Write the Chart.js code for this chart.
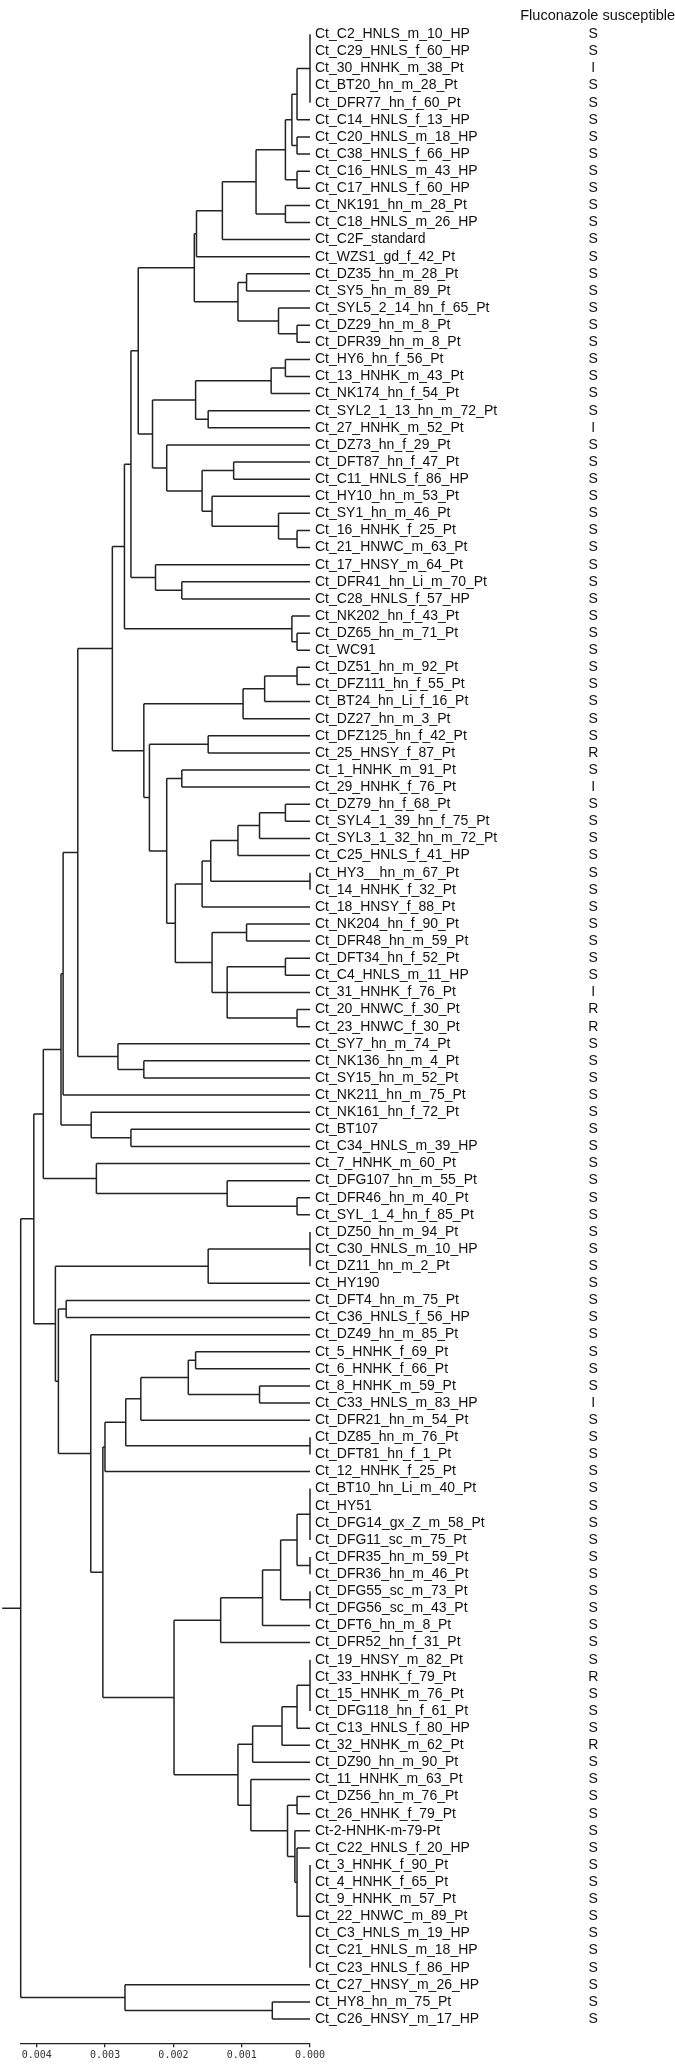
<!DOCTYPE html>
<html><head><meta charset="utf-8">
<script src="https://cdn.jsdelivr.net/npm/chart.js@4.4.1/dist/chart.umd.min.js"></script>
<style>html,body{margin:0;padding:0;background:#fff;}#wrap{width:675px;height:2066px;}</style>
</head><body><div id="wrap"><canvas id="c" width="675" height="2066"></canvas></div>
<script>
// ---------------- DATA ----------------
const leafNames = [
'Ct_C2_HNLS_m_10_HP','Ct_C29_HNLS_f_60_HP','Ct_30_HNHK_m_38_Pt','Ct_BT20_hn_m_28_Pt','Ct_DFR77_hn_f_60_Pt',
'Ct_C14_HNLS_f_13_HP','Ct_C20_HNLS_m_18_HP','Ct_C38_HNLS_f_66_HP','Ct_C16_HNLS_m_43_HP','Ct_C17_HNLS_f_60_HP',
'Ct_NK191_hn_m_28_Pt','Ct_C18_HNLS_m_26_HP','Ct_C2F_standard','Ct_WZS1_gd_f_42_Pt','Ct_DZ35_hn_m_28_Pt',
'Ct_SY5_hn_m_89_Pt','Ct_SYL5_2_14_hn_f_65_Pt','Ct_DZ29_hn_m_8_Pt','Ct_DFR39_hn_m_8_Pt','Ct_HY6_hn_f_56_Pt',
'Ct_13_HNHK_m_43_Pt','Ct_NK174_hn_f_54_Pt','Ct_SYL2_1_13_hn_m_72_Pt','Ct_27_HNHK_m_52_Pt','Ct_DZ73_hn_f_29_Pt',
'Ct_DFT87_hn_f_47_Pt','Ct_C11_HNLS_f_86_HP','Ct_HY10_hn_m_53_Pt','Ct_SY1_hn_m_46_Pt','Ct_16_HNHK_f_25_Pt',
'Ct_21_HNWC_m_63_Pt','Ct_17_HNSY_m_64_Pt','Ct_DFR41_hn_Li_m_70_Pt','Ct_C28_HNLS_f_57_HP','Ct_NK202_hn_f_43_Pt',
'Ct_DZ65_hn_m_71_Pt','Ct_WC91','Ct_DZ51_hn_m_92_Pt','Ct_DFZ111_hn_f_55_Pt','Ct_BT24_hn_Li_f_16_Pt',
'Ct_DZ27_hn_m_3_Pt','Ct_DFZ125_hn_f_42_Pt','Ct_25_HNSY_f_87_Pt','Ct_1_HNHK_m_91_Pt','Ct_29_HNHK_f_76_Pt',
'Ct_DZ79_hn_f_68_Pt','Ct_SYL4_1_39_hn_f_75_Pt','Ct_SYL3_1_32_hn_m_72_Pt','Ct_C25_HNLS_f_41_HP','Ct_HY3__hn_m_67_Pt',
'Ct_14_HNHK_f_32_Pt','Ct_18_HNSY_f_88_Pt','Ct_NK204_hn_f_90_Pt','Ct_DFR48_hn_m_59_Pt','Ct_DFT34_hn_f_52_Pt',
'Ct_C4_HNLS_m_11_HP','Ct_31_HNHK_f_76_Pt','Ct_20_HNWC_f_30_Pt','Ct_23_HNWC_f_30_Pt','Ct_SY7_hn_m_74_Pt',
'Ct_NK136_hn_m_4_Pt','Ct_SY15_hn_m_52_Pt','Ct_NK211_hn_m_75_Pt','Ct_NK161_hn_f_72_Pt','Ct_BT107',
'Ct_C34_HNLS_m_39_HP','Ct_7_HNHK_m_60_Pt','Ct_DFG107_hn_m_55_Pt','Ct_DFR46_hn_m_40_Pt','Ct_SYL_1_4_hn_f_85_Pt',
'Ct_DZ50_hn_m_94_Pt','Ct_C30_HNLS_m_10_HP','Ct_DZ11_hn_m_2_Pt','Ct_HY190','Ct_DFT4_hn_m_75_Pt',
'Ct_C36_HNLS_f_56_HP','Ct_DZ49_hn_m_85_Pt','Ct_5_HNHK_f_69_Pt','Ct_6_HNHK_f_66_Pt','Ct_8_HNHK_m_59_Pt',
'Ct_C33_HNLS_m_83_HP','Ct_DFR21_hn_m_54_Pt','Ct_DZ85_hn_m_76_Pt','Ct_DFT81_hn_f_1_Pt','Ct_12_HNHK_f_25_Pt',
'Ct_BT10_hn_Li_m_40_Pt','Ct_HY51','Ct_DFG14_gx_Z_m_58_Pt','Ct_DFG11_sc_m_75_Pt','Ct_DFR35_hn_m_59_Pt',
'Ct_DFR36_hn_m_46_Pt','Ct_DFG55_sc_m_73_Pt','Ct_DFG56_sc_m_43_Pt','Ct_DFT6_hn_m_8_Pt','Ct_DFR52_hn_f_31_Pt',
'Ct_19_HNSY_m_82_Pt','Ct_33_HNHK_f_79_Pt','Ct_15_HNHK_m_76_Pt','Ct_DFG118_hn_f_61_Pt','Ct_C13_HNLS_f_80_HP',
'Ct_32_HNHK_m_62_Pt','Ct_DZ90_hn_m_90_Pt','Ct_11_HNHK_m_63_Pt','Ct_DZ56_hn_m_76_Pt','Ct_26_HNHK_f_79_Pt',
'Ct-2-HNHK-m-79-Pt','Ct_C22_HNLS_f_20_HP','Ct_3_HNHK_f_90_Pt','Ct_4_HNHK_f_65_Pt','Ct_9_HNHK_m_57_Pt',
'Ct_22_HNWC_m_89_Pt','Ct_C3_HNLS_m_19_HP','Ct_C21_HNLS_m_18_HP','Ct_C23_HNLS_f_86_HP','Ct_C27_HNSY_m_26_HP',
'Ct_HY8_hn_m_75_Pt','Ct_C26_HNSY_m_17_HP'
];

const susceptibility = [
'S','S','I','S','S','S','S','S','S','S',
'S','S','S','S','S','S','S','S','S','S',
'S','S','S','I','S','S','S','S','S','S',
'S','S','S','S','S','S','S','S','S','S',
'S','S','R','S','I','S','S','S','S','S',
'S','S','S','S','S','S','I','R','R','S',
'S','S','S','S','S','S','S','S','S','S',
'S','S','S','S','S','S','S','S','S','S',
'I','S','S','S','S','S','S','S','S','S',
'S','S','S','S','S','S','R','S','S','S',
'R','S','S','S','S','S','S','S','S','S',
'S','S','S','S','S','S','S'
];

// internal nodes: ids start at leafNames.length (117); children refer to leaf indexes or node ids
const nodeChildren = [
[0,1,2,3,4],[117,5],[6,7],[118,119],[8,9],[120,121],[10,11],[122,123],[124,12],[125,13],
[14,15],[17,18],[16,128],[127,129],[126,130],[19,20],[132,21],[22,23],[133,134],[25,26],
[29,30],[28,137],[27,138],[136,139],[24,140],[135,141],[131,142],[32,33],[31,144],[143,145],
[35,36],[34,147],[146,148],[37,38],[150,39],[151,40],[41,42],[43,44],[45,46],[155,47],
[156,48],[49,50],[157,158],[159,51],[52,53],[54,55],[57,58],[162,56,163],[161,164],[160,165],
[154,166],[153,167],[152,168],[149,169],[60,61],[59,171],[170,172],[173,62],[64,65],[63,175],
[174,176],[68,69],[67,178],[66,179],[177,180],[70,71,72],[182,73],[74,75],[77,78],[79,80],
[185,186],[187,81],[82,83],[188,189],[190,84],[85,86,87,88],[89,90],[192,193],[91,92],[194,195],
[196,93],[197,94],[95,96,97,98],[199,99],[200,100],[201,101],[103,104],[107,108,109,110,111,112,113],[106,204],[105,205],
[203,206],[102,207],[202,208],[198,209],[191,210],[76,211],[184,212],[183,213],[181,214],[115,116],
[114,216],[215,217]
];

const nodeHeights = [
0,0.00019,0.00019,0.000265,0.00019,0.00036,0.00036,0.00079,0.001283,0.001662,
0.000929,0.00019,0.000461,0.001055,0.001694,0.00036,0.000569,0.001491,0.001675,0.001118,
0.00019,0.000461,0.001434,0.00158,0.002098,0.002306,0.002515,0.001877,0.002262,0.002622,
0.00019,0.000265,0.002717,0.00019,0.000664,0.00098,0.001491,0.001877,0.00036,0.000739,
0.001055,0,0.001453,0.00158,0.000929,0.00036,0.00019,0.001213,0.001434,0.001972,
0.002098,0.002351,0.002433,0.002894,0.002433,0.002812,0.0034,0.003615,0.002622,0.003204,
0.003646,0.00019,0.001213,0.003128,0.003905,0,0.001491,0.00357,0.001675,0.000739,
0.001782,0.002477,0,0.002698,0.003002,0,0,0.00019,0,0.00043,
0.000695,0.001308,0,0.00019,0.00041,0.00084,0.00019,0,0.00019,0.000221,
0.000329,0.000866,0.001055,0.001991,0.003033,0.00321,0.003684,0.003728,0.004044,0.000552,
0.002709,0.004236
];

const rootStubEnd = 0.004507;
const xTickValues = [0, 0.001, 0.002, 0.003, 0.004];
const xAxisMax = 0.004236;
const headerText = 'Fluconazole susceptible';

// ---------------- TREE SEGMENTS ----------------
const nLeaves = leafNames.length;
const heightOf = id => id < nLeaves ? 0 : nodeHeights[id - nLeaves];
const yPos = [];
for (let i = 0; i < nLeaves; i++) yPos[i] = i;
nodeChildren.forEach((ch, k) => {
  yPos[nLeaves + k] = (yPos[ch[0]] + yPos[ch[ch.length - 1]]) / 2;
});
const gap = {x: NaN, y: NaN};
const treePoints = [];
nodeChildren.forEach((ch, k) => {
  const h = nodeHeights[k];
  treePoints.push({x: h, y: yPos[ch[0]]}, {x: h, y: yPos[ch[ch.length - 1]]}, gap);
  ch.forEach(c => {
    const hc = heightOf(c);
    if (hc !== h) treePoints.push({x: h, y: yPos[c]}, {x: hc, y: yPos[c]}, gap);
  });
});
const rootId = nLeaves + nodeChildren.length - 1;
treePoints.push({x: heightOf(rootId), y: yPos[rootId]}, {x: rootStubEnd, y: yPos[rootId]});

// ---------------- CHART ----------------
Chart.defaults.font.family = "'Liberation Sans', Arial, sans-serif";
Chart.defaults.color = '#111';

new Chart(document.getElementById('c'), {
  type: 'scatter',
  data: {
    datasets: [{
      data: treePoints,
      showLine: true,
      spanGaps: false,
      borderColor: '#222',
      borderWidth: 1.5,
      pointRadius: 0,
      pointHoverRadius: 0,
      tension: 0,
      clip: false,
      yAxisID: 'y'
    }]
  },
  options: {
    responsive: false,
    animation: false,
    devicePixelRatio: 1,
    layout: {padding: {left: 20.7, right: 0, top: 0, bottom: 0}},
    plugins: {
      legend: {display: false},
      tooltip: {enabled: false},
      title: {
        display: true, text: headerText, align: 'end', color: '#111',
        font: {size: 14.5, weight: 'normal'},
        padding: {top: 7, bottom: 1.35}
      }
    },
    scales: {
      x: {
        type: 'linear', position: 'bottom', reverse: true, min: 0, max: xAxisMax,
        afterBuildTicks: s => { s.ticks = xTickValues.map(v => ({value: v})); },
        afterFit: s => { s.height = 22.7; },
        ticks: {
          autoSkip: false, maxRotation: 0, padding: 1.7, color: '#333',
          font: {family: "'DejaVu Sans Mono', monospace", size: 10},
          callback: v => Number(v).toFixed(3)
        },
        grid: {drawOnChartArea: false, drawTicks: true, tickLength: 4, color: '#222', lineWidth: 1.3},
        border: {display: true, color: '#222', width: 1.3}
      },
      y: {
        type: 'linear', position: 'right', reverse: true, min: -0.5, max: 117.42,
        afterBuildTicks: s => { s.ticks = leafNames.map((_, i) => ({value: i})); },
        afterFit: s => { s.width = 270; },
        ticks: {
          autoSkip: false, padding: 5, crossAlign: 'near', color: '#111',
          font: {size: 14},
          callback: v => leafNames[v]
        },
        grid: {display: false, drawTicks: false},
        border: {display: false}
      },
      y2: {
        type: 'linear', position: 'right', reverse: true, min: -0.5, max: 117.42,
        afterBuildTicks: s => { s.ticks = susceptibility.map((_, i) => ({value: i})); },
        afterFit: s => { s.width = 95; },
        ticks: {
          autoSkip: false, padding: 8.2, crossAlign: 'center', color: '#111',
          font: {size: 14},
          callback: v => susceptibility[v]
        },
        grid: {display: false, drawTicks: false},
        border: {display: false}
      }
    }
  }
});
</script>
</body></html>
